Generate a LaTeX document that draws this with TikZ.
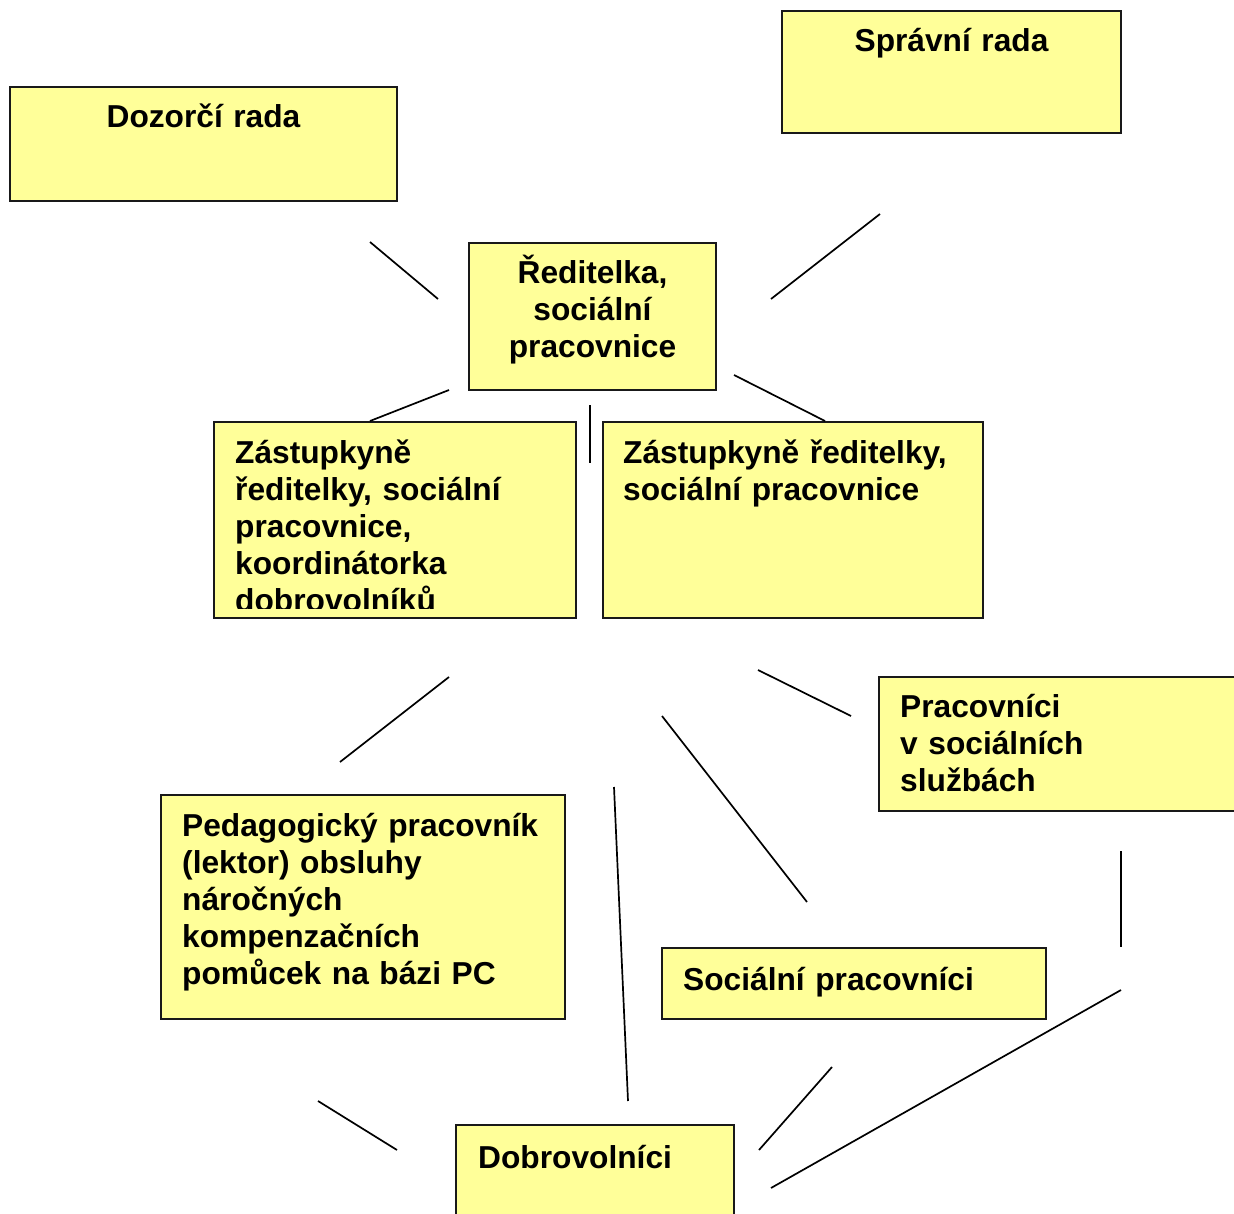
\documentclass[tikz,border=0pt]{standalone}
\usepackage{fontspec}
\setmainfont{Liberation Sans}
\usetikzlibrary{positioning}
\definecolor{boxyellow}{HTML}{FFFF99}
\tikzset{orgbox/.style n args={2}{draw=black!90, line width=1.6pt, fill=boxyellow, anchor=north west,
    inner sep=0pt, outer sep=0pt, minimum width=#1, minimum height=#2},
  orgtext/.style={font=\fontsize{31.7}{37}\selectfont\bfseries, inner sep=0pt, text width=#1,
    align=left, anchor=base west},
  link/.style={line width=1.7pt}}

\begin{document}
\begin{tikzpicture}[x=1pt, y=-1pt]
\clip (0,0) rectangle (1234,1214);
\fill[white] (0,0) rectangle (1234,1214);

% boxes
\node[orgbox={387pt}{114pt}] (dozor) at (10,87) {};
\node[orgbox={339pt}{122pt}] (sprava) at (782,11) {};
\node[orgbox={247pt}{147pt}] (reditel) at (469,243) {};
\node[orgbox={362pt}{196pt}] (zastA) at (214,422) {};
\node[orgbox={380pt}{196pt}] (zastB) at (603,422) {};
\node[orgbox={380pt}{134pt}] (pracov) at (879,677) {};
\node[orgbox={404pt}{224pt}] (pedag) at (161,795) {};
\node[orgbox={384pt}{71pt}] (social) at (662,948) {};
\node[orgbox={278pt}{120pt}] (dobro) at (456,1125) {};

% texts
\node[orgtext=330pt, align=center, anchor=base] (dozorT) at (dozor.north |- 0,128) {Dozorčí rada};
\node[orgtext=330pt, align=center, anchor=base] (spravaT) at (sprava.north |- 0,52) {Správní rada};
\node[orgtext=240pt, align=center, anchor=base] (reditelT) at (reditel.north |- 0,284)
  {Ředitelka,\\ sociální\\ pracovnice};
\begin{scope}
\clip (zastA.north west) rectangle (576,608);
\node[orgtext=340pt] (zastAT) at (235,463)
  {Zástupkyně\\ ředitelky, sociální\\ pracovnice,\\ koordinátorka\\ dobrovolníků};
\end{scope}
\node[orgtext=360pt] (zastBT) at (623,463) {Zástupkyně ředitelky,\\ sociální pracovnice};
\node[orgtext=330pt] (pracovT) at (900,717) {Pracovníci\\ v sociálních\\ službách};
\node[orgtext=380pt] (pedagT) at (182,836)
  {Pedagogický pracovník\\ (lektor) obsluhy\\ náročných\\ kompenzačních\\ pomůcek na bázi PC};
\node[orgtext=360pt] (socialT) at (683,990) {Sociální pracovníci};
\node[orgtext=250pt] (dobroT) at (478,1168) {Dobrovolníci};

% loose connectors
\coordinate (d1) at (370,242);  \coordinate (d2) at (438,299);
\coordinate (s1) at (880,214);  \coordinate (s2) at (771,299);
\coordinate (r1) at (449,390);  \coordinate (r2) at (370,421);
\coordinate (r3) at (590,405);  \coordinate (r4) at (590,463);
\coordinate (r5) at (734,375);  \coordinate (r6) at (825,421);
\coordinate (z1) at (449,677);  \coordinate (z2) at (340,762);
\coordinate (z3) at (758,670);  \coordinate (z4) at (851,716);
\coordinate (z5) at (662,716);  \coordinate (z6) at (807,902);
\coordinate (z7) at (614,787);  \coordinate (z8) at (628,1101);
\coordinate (p1) at (1121,851); \coordinate (p2) at (1121,947);
\coordinate (p3) at (1121,990); \coordinate (p4) at (771,1188);
\coordinate (c1) at (832,1067); \coordinate (c2) at (759,1150);
\coordinate (e1) at (318,1101); \coordinate (e2) at (397,1150);
\foreach \a/\b in {d1/d2, s1/s2, r1/r2, r3/r4, r5/r6, z1/z2, z3/z4, z5/z6, z7/z8, p1/p2, p3/p4, c1/c2, e1/e2}
  \draw[link] (\a) -- (\b);
\end{tikzpicture}
\end{document}
